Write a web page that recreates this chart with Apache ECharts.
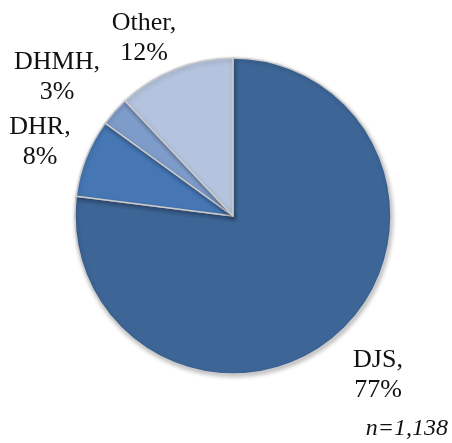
<!DOCTYPE html>
<html>
<head>
<meta charset="utf-8">
<script src="https://cdn.jsdelivr.net/npm/echarts@6/dist/echarts.min.js"></script>
<style>html,body{margin:0;padding:0;background:#fff;}#c{width:452px;height:443px;}</style>
</head>
<body>
<div id="c"></div>
<script>
// Data
const categories = ['DJS', 'DHR', 'DHMH', 'Other'];
const shares = [77, 8, 3, 12];
const sampleNote = 'n=1,138';

// Styles / layout
const colors = ['#3D6596', '#4677B4', '#7E9CCA', '#B5C4DE'];
const labelAnchors = [[378, 375], [40, 142], [57, 77], [144, 38]];

const chart = echarts.init(document.getElementById('c'));
chart.setOption({
  animation: false,
  backgroundColor: '#ffffff',
  series: [{
    type: 'pie',
    center: [233, 216],
    radius: 158,
    startAngle: 90,
    clockwise: true,
    avoidLabelOverlap: false,
    data: categories.map((c, i) => ({ name: c, value: shares[i], itemStyle: { color: colors[i] } })),
    itemStyle: {
      borderColor: '#cccccc',
      borderWidth: 1.5,
      shadowBlur: 4,
      shadowOffsetX: 1,
      shadowOffsetY: 2,
      shadowColor: 'rgba(0,0,0,0.25)'
    },
    label: {
      show: true,
      position: 'outside',
      formatter: '{b},\n{c}%',
      fontFamily: 'Liberation Serif',
      fontSize: 26,
      lineHeight: 30,
      color: '#111111',
      align: 'center'
    },
    labelLine: { show: false },
    labelLayout: function (params) {
      const p = labelAnchors[params.dataIndex];
      return { x: p[0], y: p[1], align: 'center', verticalAlign: 'middle' };
    }
  }],
  graphic: [{
    type: 'text',
    right: 4,
    bottom: 2,
    style: {
      text: sampleNote,
      font: 'italic 24px "Liberation Serif"',
      fill: '#111111'
    }
  }]
});
</script>
</body>
</html>
